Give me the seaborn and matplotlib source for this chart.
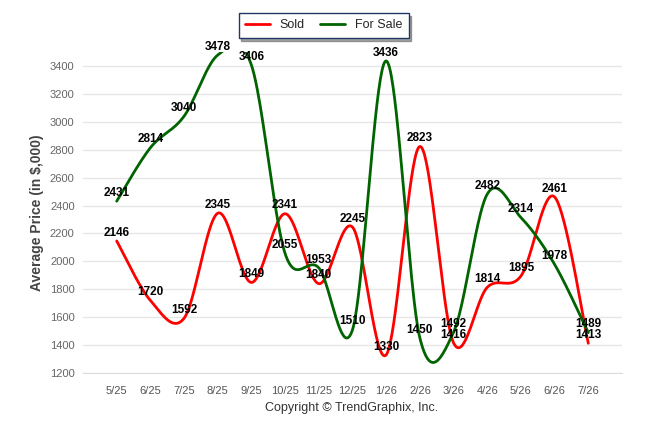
import numpy as np
import matplotlib
matplotlib.use("Agg")
import matplotlib.pyplot as plt
import seaborn as sns
from matplotlib.lines import Line2D

# months shown on the x axis
months = ["5/25", "6/25", "7/25", "8/25", "9/25", "10/25", "11/25", "12/25",
          "1/26", "2/26", "3/26", "4/26", "5/26", "6/26", "7/26"]

# average prices in $,000
sold = [2146, 1720, 1592, 2345, 1849, 2341, 1840, 2245,
        1330, 2823, 1416, 1814, 1895, 2461, 1413]
for_sale = [2431, 2814, 3040, 3478, 3406, 2055, 1953, 1510,
            3436, 1450, 1492, 2482, 2314, 1978, 1489]

y_ticks = list(range(1200, 3500, 200))


def smooth(vals, steps=40):
    # catmull-rom curve through the points (like the original spline chart)
    x = np.arange(len(vals), dtype=float)
    y = np.asarray(vals, dtype=float)
    xs, ys = [], []
    for i in range(len(vals) - 1):
        x0, y0 = x[max(i - 1, 0)], y[max(i - 1, 0)]
        x3, y3 = x[min(i + 2, len(vals) - 1)], y[min(i + 2, len(vals) - 1)]
        p1 = (x[i], y[i]); p2 = (x[i + 1], y[i + 1])
        c1 = (p1[0] + (p2[0] - x0) / 6, p1[1] + (p2[1] - y0) / 6)
        c2 = (p2[0] - (x3 - p1[0]) / 6, p2[1] - (y3 - p1[1]) / 6)
        t = np.linspace(0, 1, steps, endpoint=(i == len(vals) - 2))
        a = (1 - t) ** 3; b = 3 * (1 - t) ** 2 * t; c = 3 * (1 - t) * t ** 2; d = t ** 3
        xs.append(a * p1[0] + b * c1[0] + c * c2[0] + d * p2[0])
        ys.append(a * p1[1] + b * c1[1] + c * c2[1] + d * p2[1])
    return np.concatenate(xs), np.concatenate(ys)


sns.set_style("white")
plt.rcParams["font.family"] = ["Liberation Sans", "DejaVu Sans"]

fig = plt.figure(figsize=(6.46, 4.34), dpi=100)
ax = fig.add_axes([83 / 646, 1 - 373 / 434, (622 - 83) / 646, (373 - 52) / 434])

red = "#ff0000"
green = "#006400"

sx, sy = smooth(sold)
fx, fy = smooth(for_sale)
sns.lineplot(x=sx, y=sy, ax=ax, color=red, linewidth=2, sort=False, estimator=None)
sns.lineplot(x=fx, y=fy, ax=ax, color=green, linewidth=2, sort=False, estimator=None)

for i in range(len(months)):
    for v in (sold[i], for_sale[i]):
        ax.annotate(str(v), (i, v), xytext=(0, 6), textcoords="offset points",
                    ha="center", va="center", fontsize=8.5, fontweight="bold",
                    color="black", annotation_clip=False, zorder=5)

ax.set_xlim(-1, len(months))
ax.set_ylim(1200, 3500)
ax.set_yticks(y_ticks)
ax.set_yticklabels([str(t) for t in y_ticks], fontsize=8, color="#666666")
ax.set_xticks(range(-1, len(months) + 1))
ax.set_xticklabels([""] + months + [""], fontsize=8, color="#555555")
ax.grid(axis="y", color="#e6e6e6", linewidth=1)
ax.set_axisbelow(True)
for s in ["top", "right", "left"]:
    ax.spines[s].set_visible(False)
ax.spines["bottom"].set_color("#dddddd")
ax.tick_params(axis="x", length=5, color="#dddddd", pad=4)
ax.tick_params(axis="y", length=0, pad=6)

ax.set_ylabel("Average Price (in $,000)", fontsize=10, fontweight="bold",
              color="#444444")
ax.yaxis.set_label_coords((44 - 83) / 539, 0.5)

handles = [Line2D([0], [0], color=red, lw=2), Line2D([0], [0], color=green, lw=2)]
leg = fig.legend(handles, ["Sold", "For Sale"], loc="center",
                 bbox_to_anchor=(323.5 / 646, 1 - 25.5 / 434), ncol=2,
                 fontsize=9, frameon=True, fancybox=False, shadow=True,
                 handlelength=2.0, columnspacing=1.2, borderpad=0.5)
leg.get_frame().set_edgecolor("#1f3864")
leg.get_frame().set_linewidth(1)

fig.text(352 / 646, 1 - 408 / 434, "Copyright \u00a9 TrendGraphix, Inc.",
         ha="center", va="center", fontsize=9, color="#333333")

fig.savefig("out.png", dpi=100)
